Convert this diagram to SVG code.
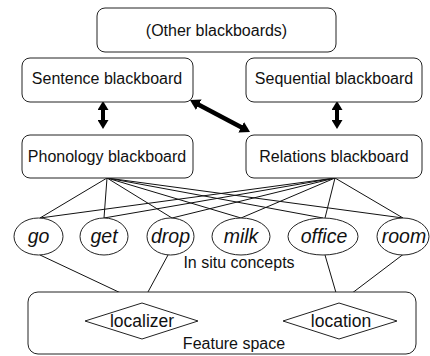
<svg xmlns="http://www.w3.org/2000/svg" width="430" height="356" viewBox="0 0 430 356">
<style>
.box{fill:#fff;stroke:#222;stroke-width:1}
.t{font-family:"Liberation Sans",Arial,sans-serif;font-size:16px;fill:#111;text-anchor:middle}
.w{font-family:"Liberation Sans",Arial,sans-serif;font-size:19.5px;font-style:italic;fill:#111;text-anchor:middle}
.ln{stroke:#111;stroke-width:1;fill:none}
.thick{stroke:#000;stroke-width:4;fill:none;marker-start:url(#ah);marker-end:url(#ah)}
.thick2{stroke:#000;stroke-width:4.5;fill:none;marker-start:url(#ah2);marker-end:url(#ah2)}
</style>
<defs>
<marker id="ah" markerUnits="userSpaceOnUse" markerWidth="9" markerHeight="11" viewBox="0 0 9 11" refX="5" refY="5.5" orient="auto-start-reverse">
<path d="M0,0 L9,5.5 L0,11 Z" fill="#000"/>
</marker>
<marker id="ah2" markerUnits="userSpaceOnUse" markerWidth="10" markerHeight="12" viewBox="0 0 10 12" refX="6" refY="6" orient="auto-start-reverse">
<path d="M0,0 L10,6 L0,12 Z" fill="#000"/>
</marker>
</defs>
<g id="connectors">
<line class="ln" x1="107" y1="178" x2="40" y2="218"/>
<line class="ln" x1="107" y1="178" x2="104" y2="218"/>
<line class="ln" x1="107" y1="178" x2="172" y2="218"/>
<line class="ln" x1="107" y1="178" x2="241" y2="218"/>
<line class="ln" x1="107" y1="178" x2="323" y2="218"/>
<line class="ln" x1="107" y1="178" x2="403" y2="218"/>
<line class="ln" x1="335" y1="178" x2="40" y2="218"/>
<line class="ln" x1="335" y1="178" x2="104" y2="218"/>
<line class="ln" x1="335" y1="178" x2="172" y2="218"/>
<line class="ln" x1="335" y1="178" x2="241" y2="218"/>
<line class="ln" x1="335" y1="178" x2="325" y2="218"/>
<line class="ln" x1="335" y1="178" x2="403" y2="218"/>
<line class="ln" x1="40" y1="255" x2="142" y2="303"/>
<line class="ln" x1="168" y1="255" x2="142" y2="303"/>
<line class="ln" x1="325" y1="255" x2="339" y2="303"/>
<line class="ln" x1="405" y1="253" x2="339" y2="303"/>
<line class="thick" x1="103" y1="105" x2="103" y2="125"/>
<line class="thick" x1="337" y1="105" x2="337" y2="125"/>
<line class="thick2" x1="193.5" y1="101.9" x2="246.5" y2="130.1"/>
</g>
<g id="other"><rect class="box" x="97" y="8" width="239" height="44" rx="8"/><text class="t" x="216.5" y="35.5">(Other blackboards)</text></g>
<g id="sentence"><rect class="box" x="22" y="58" width="171" height="44" rx="8"/><text class="t" x="107" y="84">Sentence blackboard</text></g>
<g id="sequential"><rect class="box" x="246" y="58" width="176" height="44" rx="8"/><text class="t" x="334" y="84">Sequential blackboard</text></g>
<g id="phonology"><rect class="box" x="22" y="135" width="171" height="43" rx="8"/><text class="t" x="107" y="161.5">Phonology blackboard</text></g>
<g id="relations"><rect class="box" x="246" y="135" width="176" height="43" rx="8"/><text class="t" x="334" y="161.5">Relations blackboard</text></g>
<g id="feature"><rect class="box" x="28" y="292" width="388" height="62" rx="10" fill="none"/><text class="t" x="234" y="349">Feature space</text></g>
<g id="go"><ellipse class="box" cx="38.5" cy="236.5" rx="24.5" ry="18.5"/><text class="w" x="38.5" y="242.5">go</text></g>
<g id="get"><ellipse class="box" cx="104" cy="236.5" rx="24" ry="18.5"/><text class="w" x="104" y="242.5">get</text></g>
<g id="drop"><ellipse class="box" cx="170.5" cy="236.5" rx="23.5" ry="18.5"/><text class="w" x="170.5" y="242.5">drop</text></g>
<g id="milk"><ellipse class="box" cx="241" cy="236.5" rx="29" ry="18.5"/><text class="w" x="241" y="242.5">milk</text></g>
<g id="office"><ellipse class="box" cx="323" cy="236.5" rx="35" ry="18.5"/><text class="w" x="324" y="242.5">office</text></g>
<g id="room"><ellipse class="box" cx="403" cy="236.5" rx="26" ry="18.5"/><text class="w" x="404" y="242.5">room</text></g>
<g id="insitu"><text class="t" x="239" y="268">In situ concepts</text></g>
<g id="localizer"><polygon class="box" points="85,321 142,303 198,321 142,339"/><text class="t" x="142" y="327" style="font-size:17.5px">localizer</text></g>
<g id="location"><polygon class="box" points="283,321 339,303 397,321 339,339"/><text class="t" x="341" y="327" style="font-size:17.5px">location</text></g>
</svg>
